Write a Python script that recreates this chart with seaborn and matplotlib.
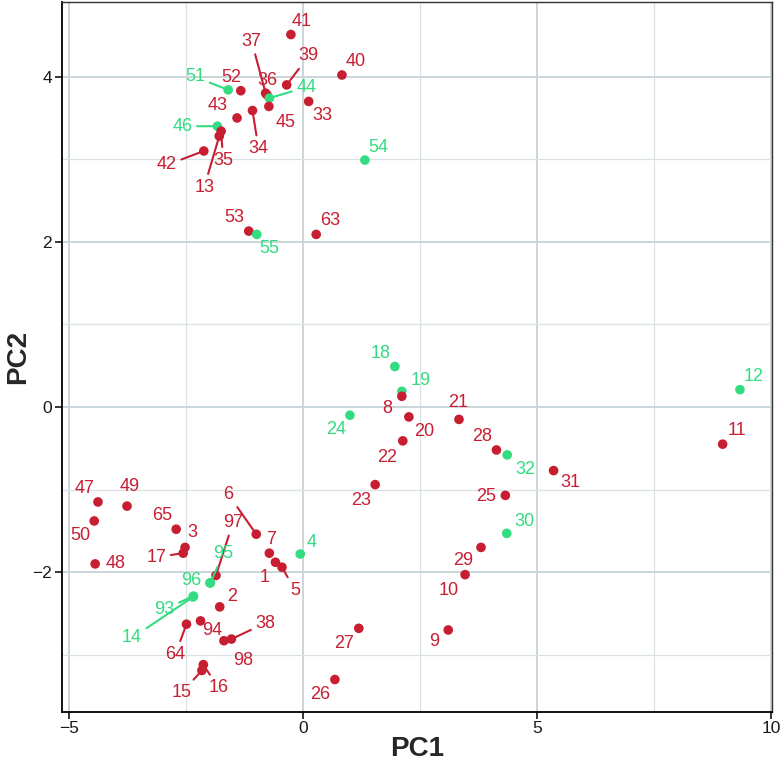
import numpy as np
import pandas as pd
import matplotlib
matplotlib.use('Agg')
import matplotlib.pyplot as plt
from matplotlib.ticker import MultipleLocator
import seaborn as sns

# Sample ids, PCA scores and group
labels = ['41', '40', '39', '37', '36', '44', '45', '33', '52', '51',
          '43', '34', '46', '35', '13', '42', '54', '53', '55', '63',
          '18', '19', '8', '24', '20', '22', '23', '21', '28', '32',
          '31', '25', '30', '29', '10', '9', '27', '26', '4', '12',
          '11', '47', '49', '50', '48', '65', '3', '17', '97', '95',
          '96', '93', '14', '6', '7', '1', '5', '2', '64', '94',
          '98', '38', '16', '15']
pc1 = [-0.26, 0.83, -0.35, -0.80, -0.77, -0.72, -0.73, 0.12, -1.33, -1.60,
       -1.41, -1.08, -1.83, -1.75, -1.79, -2.12, 1.32, -1.16, -0.99, 0.28,
       1.96, 2.11, 2.11, 1.00, 2.26, 2.13, 1.54, 3.33, 4.13, 4.36,
       5.35, 4.32, 4.35, 3.80, 3.46, 3.10, 1.19, 0.68, -0.06, 9.33,
       8.96, -4.38, -3.76, -4.46, -4.44, -2.71, -2.52, -2.56, -1.86, -1.98,
       -1.99, -2.34, -2.35, -1.00, -0.72, -0.59, -0.45, -1.78, -2.49, -2.19,
       -1.69, -1.53, -2.13, -2.16]
pc2 = [4.51, 4.02, 3.90, 3.80, 3.78, 3.74, 3.64, 3.70, 3.83, 3.84,
       3.50, 3.59, 3.40, 3.34, 3.28, 3.10, 2.99, 2.13, 2.09, 2.09,
       0.49, 0.19, 0.13, -0.10, -0.12, -0.41, -0.94, -0.15, -0.52, -0.58,
       -0.77, -1.07, -1.53, -1.70, -2.03, -2.70, -2.68, -3.30, -1.78, 0.21,
       -0.45, -1.15, -1.20, -1.38, -1.90, -1.48, -1.70, -1.77, -2.04, -2.13,
       -2.13, -2.29, -2.30, -1.54, -1.77, -1.88, -1.94, -2.42, -2.63, -2.59,
       -2.83, -2.81, -3.12, -3.19]
green_ids = ['44', '51', '46', '54', '55', '18', '19', '24', '32', '30',
             '4', '12', '95', '96', '93', '14']
group = ['B' if l in green_ids else 'A' for l in labels]

df = pd.DataFrame({'id': labels, 'PC1': pc1, 'PC2': pc2, 'group': group})

colors = {'A': '#C81E32', 'B': '#33DC80'}

# label placement (pixel offsets from the point), and which ones get a leader line
offsets = {
    '41': (11, 13), '40': (14, 14), '39': (22, 29), '37': (-14, 52), '36': (0, 14),
    '44': (37, 11), '45': (17, -16), '33': (14, -14), '52': (-9, 13), '51': (-33, 13),
    '43': (-19, 12), '34': (6, -38), '46': (-35, 0), '35': (2, -29), '13': (-15, -51),
    '42': (-37, -14), '54': (13, 13), '53': (-14, 14), '55': (13, -14), '63': (14, 14),
    '18': (-14, 13), '19': (19, 11), '8': (-15, -12), '24': (-14, -14), '20': (15, -15),
    '22': (-16, -17), '23': (-14, -16), '21': (-1, 17), '28': (-14, 13), '32': (18, -15),
    '31': (17, -12), '25': (-19, -1), '30': (18, 12), '29': (-18, -13), '10': (-16, -16),
    '9': (-14, -12), '27': (-15, -15), '26': (-15, -15), '4': (11, 12), '12': (14, 13),
    '11': (14, 14), '47': (-13, 13), '49': (3, 20), '50': (-14, -15), '48': (20, 0),
    '65': (-14, 14), '3': (7, 15), '17': (-27, -4), '97': (17, 53), '95': (13, 29),
    '96': (-19, 2), '93': (-29, -13), '14': (-61, -41), '6': (-28, 40), '7': (2, 14),
    '1': (-11, -15), '5': (13, -23), '2': (12, 10), '64': (-11, -30), '94': (12, -10),
    '98': (19, -20), '38': (34, 16), '16': (15, -23), '15': (-20, -22),
}
segments = ['39', '37', '44', '51', '34', '46', '35', '13', '42', '17', '97', '95',
            '93', '14', '6', '5', '64', '38', '16', '15']

sns.set_theme(style='white')
plt.rcParams['font.family'] = ['Liberation Sans', 'DejaVu Sans']

fig, ax = plt.subplots(figsize=(7.84, 7.67), dpi=100)
fig.subplots_adjust(left=0.079, right=0.985, top=0.997, bottom=0.072)

# grid like ggplot theme_bw
ax.set_axisbelow(True)
ax.xaxis.set_minor_locator(MultipleLocator(2.5))
ax.yaxis.set_minor_locator(MultipleLocator(1))
ax.xaxis.set_major_locator(MultipleLocator(5))
ax.yaxis.set_major_locator(MultipleLocator(2))
ax.grid(which='major', color='#CAD6DA', linewidth=1.4)
ax.grid(which='minor', color='#D9E2E5', linewidth=0.9)

sns.scatterplot(data=df, x='PC1', y='PC2', hue='group', palette=colors,
                s=48, linewidth=0, legend=False, ax=ax, zorder=3)

for i, row in df.iterrows():
    dx, dy = offsets[row['id']]
    c = colors[row['group']]
    arrow = None
    if row['id'] in segments:
        arrow = dict(arrowstyle='-', color=c, lw=1.5, shrinkA=1, shrinkB=2)
    ax.annotate(row['id'], (row['PC1'], row['PC2']), xytext=(dx, dy),
                textcoords='offset pixels', ha='center', va='center',
                fontsize=13, color=c, arrowprops=arrow, zorder=4)

# ggplot style 5% expansion
xr = df['PC1'].max() - df['PC1'].min()
yr = df['PC2'].max() - df['PC2'].min()
ax.set_xlim(df['PC1'].min() - 0.05 * xr, df['PC1'].max() + 0.05 * xr)
ax.set_ylim(df['PC2'].min() - 0.05 * yr, df['PC2'].max() + 0.05 * yr)

for side in ['top', 'right']:
    ax.spines[side].set_color('#333333')
    ax.spines[side].set_linewidth(1.0)
for side in ['left', 'bottom']:
    ax.spines[side].set_color('black')
    ax.spines[side].set_linewidth(1.3)

ax.tick_params(axis='both', which='major', length=5, width=1.1, color='black',
               labelsize=12.5, labelcolor='#1A1A1A', bottom=True, left=True, pad=2)
ax.tick_params(axis='both', which='minor', length=0)
ax.set_xlabel('PC1', fontsize=20, fontweight='bold', labelpad=0)
ax.set_ylabel('PC2', fontsize=20, fontweight='bold', labelpad=1)

plt.savefig('out.png', dpi=100)
